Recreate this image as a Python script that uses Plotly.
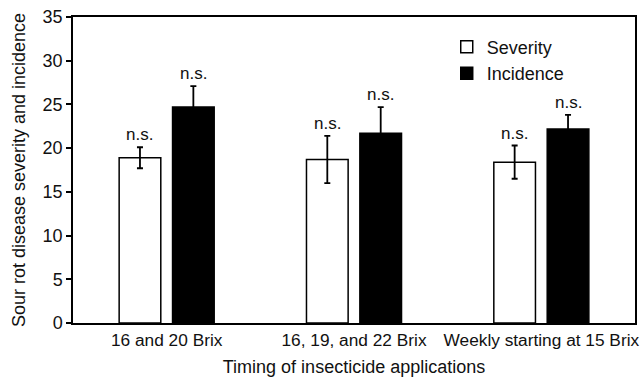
import plotly.graph_objects as go

categories = ["16 and 20 Brix", "16, 19, and 22 Brix", "Weekly starting at 15 Brix"]
severity = [18.9, 18.7, 18.4]
severity_err = [1.2, 2.7, 1.9]
incidence = [24.7, 21.7, 22.2]
incidence_err = [2.4, 3.0, 1.6]
sig_labels = ["n.s.", "n.s.", "n.s."]
y_ticks = [0, 5, 10, 15, 20, 25, 30, 35]

FONT = "Liberation Sans, Arial, Helvetica, sans-serif"
BARGAP = 0.43
BARGROUPGAP = 0.22

fig = go.Figure()
fig.add_trace(go.Bar(
    name="Severity", x=categories, y=severity,
    marker=dict(color="white", line=dict(color="black", width=1.5)),
    error_y=dict(type="data", array=severity_err, visible=True, color="black", thickness=1.8, width=3),
))
fig.add_trace(go.Bar(
    name="Incidence", x=categories, y=incidence,
    marker=dict(color="black", line=dict(color="black", width=1.5)),
    error_y=dict(type="data", array=incidence_err, visible=True, color="black", thickness=1.8, width=3),
))

offset = (1 - BARGAP) / 4
annotations = []
for i in range(len(categories)):
    for vals, errs, sgn in ((severity, severity_err, -1), (incidence, incidence_err, 1)):
        annotations.append(dict(
            x=i + sgn * offset, y=vals[i] + errs[i], xref="x", yref="y",
            text=sig_labels[i], showarrow=False, yanchor="bottom", yshift=1,
            font=dict(family=FONT, size=17, color="#111"),
        ))

fig.update_layout(
    width=644, height=377,
    margin=dict(l=73, r=9, t=17, b=54),
    paper_bgcolor="white", plot_bgcolor="white",
    barmode="group", bargap=BARGAP, bargroupgap=BARGROUPGAP,
    font=dict(family=FONT, size=17, color="#111"),
    showlegend=True,
    legend=dict(x=0.665, y=0.962, xanchor="left", yanchor="top",
                bgcolor="rgba(0,0,0,0)", font=dict(size=18), tracegroupgap=0),
    annotations=annotations,
)
fig.update_xaxes(
    automargin=False,
    showline=True, linecolor="black", linewidth=1.5, mirror=True,
    ticks="", showgrid=False,
    ticklabelstandoff=0,
    title=dict(text="Timing of insecticide applications", font=dict(size=18), standoff=12),
    tickfont=dict(size=17.3),
)
fig.update_yaxes(
    automargin=False,
    range=[0, 35], tickvals=y_ticks,
    showline=True, linecolor="black", linewidth=1.5, mirror=True,
    ticks="outside", ticklen=5, tickwidth=1.5, tickcolor="black",
    showgrid=False, zeroline=False,
    title=dict(text="Sour rot disease severity and incidence", font=dict(size=18), standoff=12),
    tickfont=dict(size=18),
)

fig.write_html("out.html", config={"displayModeBar": False},
               post_script="document.body.style.margin='0';")
